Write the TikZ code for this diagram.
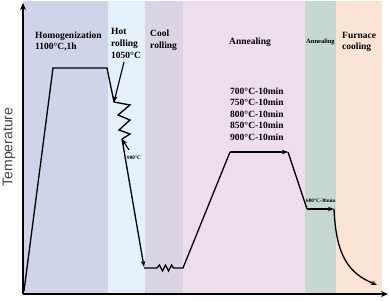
\documentclass[tikz,border=0pt]{standalone}
\usepackage{fontspec}
\setmainfont{Liberation Serif}
\newfontfamily\axisfont{Liberation Sans}
\usetikzlibrary{arrows.meta}
\definecolor{bandA}{HTML}{CED5E9}
\definecolor{bandB}{HTML}{E4F0FA}
\definecolor{bandC}{HTML}{DAD5E5}
\definecolor{bandD}{HTML}{EEDDEA}
\definecolor{bandE}{HTML}{C6D8D1}
\definecolor{bandF}{HTML}{FCE4D5}
\definecolor{axislabel}{HTML}{444444}
\tikzset{
  lbl/.style={anchor=base west, inner sep=0pt, font=\fontsize{9.5}{11}\selectfont\bfseries},
  small/.style={anchor=base west, inner sep=0pt, font=\fontsize{6.5}{7}\selectfont\bfseries},
  tiny/.style={anchor=base west, inner sep=0pt, font=\fontsize{5.2}{6}\selectfont\bfseries},
  curve/.style={line width=1.3pt, line join=miter},
  tip/.style={-{Stealth[length=6pt,width=4.5pt]}},
  axis/.style={line width=1.4pt, -{Stealth[length=7pt,width=6pt]}}
}
\begin{document}
\begin{tikzpicture}[x=1pt,y=-1pt]
\useasboundingbox (0,0) rectangle (390,300);
% bands
\fill[bandA] (23,1) rectangle (108,294);
\fill[bandB] (108,1) rectangle (145,294);
\fill[bandC] (145,1) rectangle (183,294);
\fill[bandD] (183,1) rectangle (305,294);
\fill[bandE] (305,1) rectangle (336,294);
\fill[bandF] (336,1) rectangle (382,294);
% axes
\coordinate (O) at (23,294);
\coordinate (Ytop) at (23,3);
\coordinate (Xend) at (388,294);
\draw[axis] (O) -- (Ytop);
\draw[axis] (O) -- (Xend);
\node[rotate=90, inner sep=0pt, font=\fontsize{14}{16}\selectfont\axisfont, text=axislabel] (ylab) at (9,147) {Temperature};
% key points
\coordinate (p0) at (24,291);
\coordinate (p1) at (53,68);
\coordinate (p2) at (107,68);
\coordinate (z0) at (114,102);
\coordinate (z1) at (130,105);
\coordinate (z2) at (118,115);
\coordinate (z3) at (130,120);
\coordinate (z4) at (119,130);
\coordinate (z5) at (130,134);
\coordinate (z6) at (122,139);
\coordinate (p3) at (144,267);
\coordinate (b0) at (144,268);
\coordinate (b1) at (157,268);
\coordinate (b2) at (159.5,265);
\coordinate (b3) at (162.5,271);
\coordinate (b4) at (165.5,265);
\coordinate (b5) at (168.5,271);
\coordinate (b6) at (171.5,265);
\coordinate (b7) at (173.5,268);
\coordinate (b8) at (183,268);
\coordinate (a1) at (230,152);
\coordinate (a2) at (288,152);
\coordinate (a3) at (307,209);
\coordinate (a4) at (334,209);
\coordinate (f1) at (377,285);
% path
\draw[curve] (p0) -- (p1) -- (p2) -- (z0) -- (z1) -- (z2) -- (z3) -- (z4) -- (z5) -- (z6);
\draw[curve, tip] (z6) -- (p3);
\draw[curve] (b0) -- (b1) -- (b2) -- (b3) -- (b4) -- (b5) -- (b6) -- (b7) -- (b8) -- (a1);
\draw[curve, tip] (a1) -- (a2);
\draw[curve] (a2) -- (a3);
\draw[curve, tip] (a3) -- (a4);
\draw[curve, tip] (a4) .. controls (336,255) and (348,273) .. (f1);
% labels
\node[lbl] (t1) at (35,38) {Homogenization};
\node[lbl] (t2) at (35,49) {1100°C,1h};
\node[lbl] (t3) at (111,34) {Hot};
\node[lbl] (t4) at (111,46) {rolling};
\node[lbl] (t5) at (111,58) {1050°C};
\node[lbl] (t6) at (150,36) {Cool};
\node[lbl] (t7) at (150,48) {rolling};
\node[lbl] (t8) at (229,44) {Annealing};
\node[lbl] (c1) at (230,94) {700°C-10min};
\node[lbl] (c2) at (230,105.5) {750°C-10min};
\node[lbl] (c3) at (230,117) {800°C-10min};
\node[lbl] (c4) at (230,128.5) {850°C-10min};
\node[lbl] (c5) at (230,140) {900°C-10min};
\node[small] (t9) at (306,43) {Annealing};
\node[lbl] (t10) at (342,38) {Furnace};
\node[lbl] (t11) at (342,49) {cooling};
\node[tiny] (t12) at (306,202) {600°C-30min};
\node[tiny] (t13) at (127,159) {900°C};
% pointer arrows
\coordinate (h1) at (124,62);
\coordinate (h2) at (129,150);
\draw[line width=1.1pt, tip] (h1) -- (z0);
\draw[line width=1.1pt, tip] (h2) -- (z6);
\end{tikzpicture}
\end{document}
